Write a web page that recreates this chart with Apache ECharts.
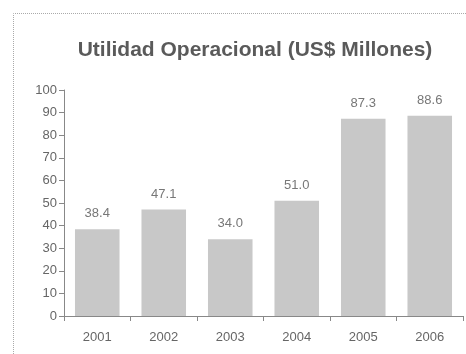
<!DOCTYPE html>
<html><head><meta charset="utf-8">
<script src="https://cdn.jsdelivr.net/npm/echarts@6/dist/echarts.min.js"></script>
<style>html,body{margin:0;padding:0;background:#fff}#c{width:466px;height:354px}</style>
</head><body><div id="c"></div>
<script>
const categories = ['2001','2002','2003','2004','2005','2006'];
const values = [38.4, 47.1, 34.0, 51.0, 87.3, 88.6];
const titleText = 'Utilidad Operacional (US$ Millones)';
const chart = echarts.init(document.getElementById('c'));
const labelFont = 'Liberation Sans';
chart.setOption({
  animation: false,
  title: {text: titleText, left: 250, top: 35, textAlign: 'center',
    textStyle: {fontFamily: 'Liberation Sans', fontSize: 21, fontWeight: 'bold', color: '#5a5a5a'}},
  graphic: [{type: 'polyline', shape: {points: [[13.5, 354], [13.5, 13.5], [466, 13.5]]},
    style: {stroke: '#aaa', lineWidth: 1, lineDash: [1, 1], fill: null}, silent: true}],
  grid: {left: 64, right: 3, top: 90, bottom: 38},
  xAxis: {type: 'category', data: categories,
    axisLine: {lineStyle: {color: '#888'}},
    axisTick: {show: true, length: 5, lineStyle: {color: '#888'}},
    axisLabel: {color: '#666', fontFamily: labelFont, fontSize: 13, margin: 15}},
  yAxis: {type: 'value', min: 0, max: 100, interval: 10,
    axisLine: {show: true, lineStyle: {color: '#888'}},
    axisTick: {show: true, length: 5, lineStyle: {color: '#888'}},
    splitLine: {show: false},
    axisLabel: {color: '#666', fontFamily: labelFont, fontSize: 13, margin: 7}},
  series: [{type: 'bar', data: values, barCategoryGap: '33%',
    itemStyle: {color: '#c8c8c8'},
    label: {show: true, position: 'top', distance: 9, formatter: p => p.value.toFixed(1),
      color: '#777', fontFamily: labelFont, fontSize: 13}}]
});
</script></body></html>
